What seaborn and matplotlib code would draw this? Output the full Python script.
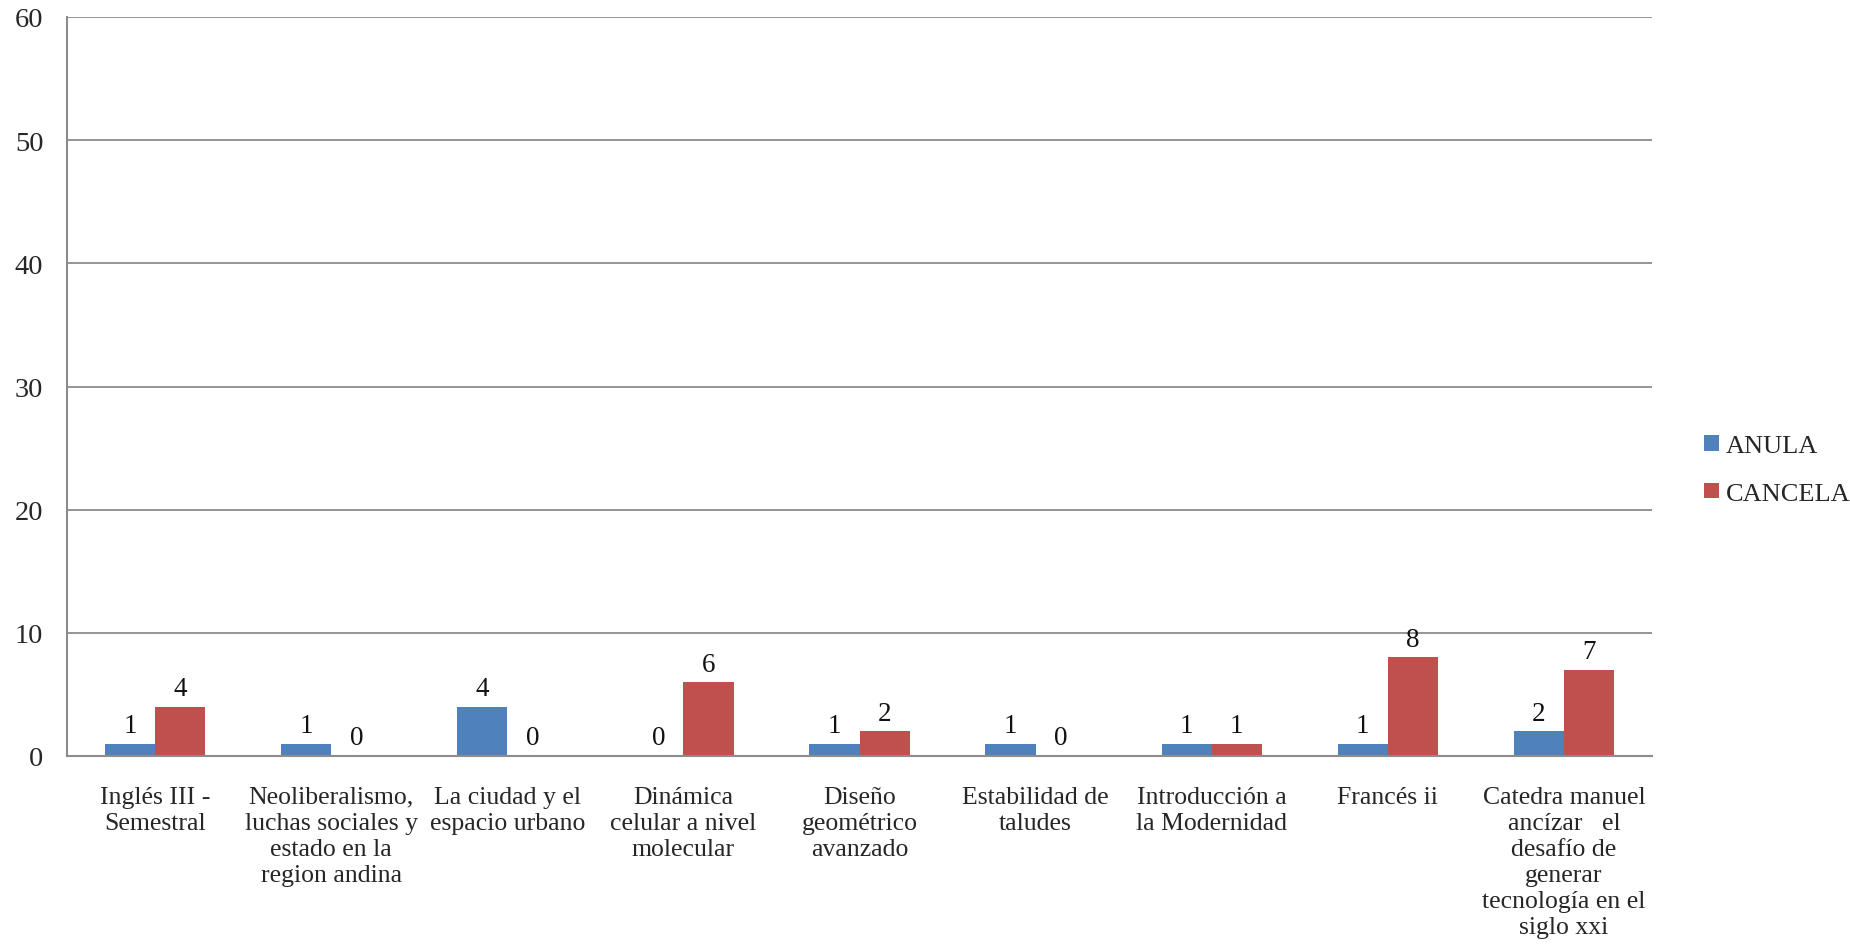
import matplotlib
matplotlib.use("Agg")
import matplotlib.pyplot as plt
import seaborn as sns
import pandas as pd

cursos = [
    "Inglés III -\nSemestral",
    "Neoliberalismo,\nluchas sociales y\nestado en la\nregion andina",
    "La ciudad y el\nespacio urbano",
    "Dinámica\ncelular a nivel\nmolecular",
    "Diseño\ngeométrico\navanzado",
    "Estabilidad de\ntaludes",
    "Introducción a\nla Modernidad",
    "Francés ii",
    "Catedra manuel\nancízar   el\ndesafío de\ngenerar\ntecnología en el\nsiglo xxi",
]
anula = [1, 1, 4, 0, 1, 1, 1, 1, 2]
cancela = [4, 0, 0, 6, 2, 0, 1, 8, 7]
series = ["ANULA", "CANCELA"]
colores = ["#4F81BD", "#C0504D"]
y_ticks = [0, 10, 20, 30, 40, 50, 60]

df = pd.DataFrame({
    "curso": cursos * 2,
    "tipo": [series[0]] * len(cursos) + [series[1]] * len(cursos),
    "valor": anula + cancela,
})

sns.set_theme(style="white")
plt.rcParams["font.family"] = ["Liberation Serif", "DejaVu Serif"]

fig = plt.figure(figsize=(18.5, 9.45), dpi=100)
ax = fig.add_axes([67 / 1850, 1 - 757 / 945, (1652 - 67) / 1850, (757 - 18) / 945])

sns.barplot(data=df, x="curso", y="valor", hue="tipo", palette=colores,
            width=0.57, saturation=1, ax=ax, legend=True, edgecolor="none")

for cont in ax.containers:
    ax.bar_label(cont, fmt="%d", padding=4, fontsize=19.5, color="#111111")

ax.set_ylim(0, 60)
ax.set_yticks(y_ticks)
ax.set_yticklabels([str(t) for t in y_ticks], fontsize=20.5)
ax.set_xlim(-0.5, len(cursos) - 0.5)
ax.yaxis.grid(True, color="#8c8c8c", linewidth=1.3)
ax.set_axisbelow(True)
ax.set_xlabel("")
ax.set_ylabel("")
ax.tick_params(axis="x", labelsize=18.5, pad=21.5, length=0)
ax.tick_params(axis="y", pad=17, length=0)
for lbl in ax.get_xticklabels():
    lbl.set_linespacing(1.24)
    lbl.set_verticalalignment("top")

for side in ["top", "right"]:
    ax.spines[side].set_visible(False)
for side in ["left", "bottom"]:
    ax.spines[side].set_color("#8c8c8c")
    ax.spines[side].set_linewidth(1.5)

ax.legend(loc="center left", bbox_to_anchor=(1.018, 0.387), frameon=False,
          fontsize=19, handlelength=0.55, handleheight=0.55, handletextpad=0.25,
          labelspacing=0.95, borderaxespad=0.5)

fig.savefig("out.png", dpi=100)
